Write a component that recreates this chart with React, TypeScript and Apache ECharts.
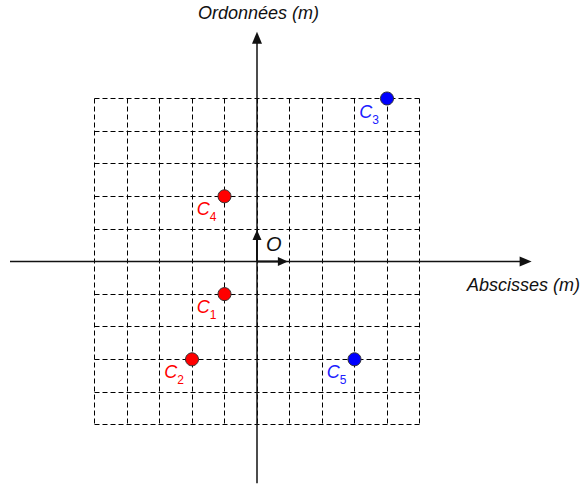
import React, { useEffect, useRef } from "react";
import * as echarts from "echarts";

// Grid range (metres) and step
const gridMin = -5;
const gridMax = 5;
const gridStep = 1;

// Points (x, y) in metres
const redPoints: number[][] = [
  [-1, -1],
  [-2, -3],
  [-1, 2],
];
const redNames = ["1", "2", "4"];
const bluePoints: number[][] = [
  [4, 5],
  [3, -3],
];
const blueNames = ["3", "5"];

// Main axes extents (data units) and unit vectors at the origin
const xAxisLine = [-7.6, 0, 8.45, 0];
const yAxisLine = [0, -6.8, 0, 7.05];
const unitX = [0, 0, 0.95, 0];
const unitY = [0, 0, 0, 0.97];
const arrowSegments = [xAxisLine, yAxisLine, unitX, unitY];

const xAxisName = "Abscisses (m)";
const yAxisName = "Ordonnées (m)";
const originName = "O";

const FONT = "'Liberation Sans', Arial, sans-serif";

export default function App() {
  const ref = useRef<HTMLDivElement>(null);
  useEffect(() => {
    if (!ref.current) return;
    const chart = echarts.init(ref.current, undefined, { renderer: "svg" });
    const arrowStyles = [
      { width: 1.5, head: 12, half: 5 },
      { width: 1.5, head: 12, half: 5 },
      { width: 2, head: 10, half: 4.5 },
      { width: 2, head: 10, half: 4.5 },
    ];
    const labelFor = (color: string) => ({
      show: true,
      position: "left",
      distance: 1,
      offset: [0, 13],
      formatter: (p: any) => `{c|C}{s|${p.name}}`,
      rich: {
        c: { fontSize: 18, fontStyle: "italic", fontFamily: FONT, color, lineHeight: 20 },
        s: { fontSize: 12, fontFamily: FONT, color, lineHeight: 12, padding: [16, 0, 0, 0] },
      },
    });
    const splitLine = {
      show: true,
      lineStyle: { type: [5, 3], color: "#000", width: 1 },
    };
    chart.setOption({
      animation: false,
      grid: { left: 94.5, top: 98.5, width: 325, height: 326, containLabel: false },
      xAxis: {
        type: "value",
        min: gridMin,
        max: gridMax,
        interval: gridStep,
        axisLine: { show: false },
        axisTick: { show: false },
        axisLabel: { show: false },
        splitLine,
      },
      yAxis: {
        type: "value",
        min: gridMin,
        max: gridMax,
        interval: gridStep,
        axisLine: { show: false },
        axisTick: { show: false },
        axisLabel: { show: false },
        splitLine,
      },
      graphic: [
        {
          type: "text",
          left: 198,
          top: 4,
          style: { text: yAxisName, font: `italic 18px ${FONT}`, fill: "#111" },
        },
        {
          type: "text",
          left: 467,
          top: 276,
          style: { text: xAxisName, font: `italic 18px ${FONT}`, fill: "#111" },
        },
        {
          type: "text",
          left: 266,
          top: 234,
          style: { text: originName, font: `italic 20px ${FONT}`, fill: "#111" },
        },
      ],
      series: [
        {
          type: "custom",
          clip: false,
          silent: true,
          z: 3,
          data: arrowSegments,
          renderItem: (params: any, api: any) => {
            const p1 = api.coord([api.value(0), api.value(1)]);
            const p2 = api.coord([api.value(2), api.value(3)]);
            const st = arrowStyles[params.dataIndex];
            const dx = p2[0] - p1[0];
            const dy = p2[1] - p1[1];
            const len = Math.hypot(dx, dy) || 1;
            const ux = dx / len;
            const uy = dy / len;
            const bx = p2[0] - ux * st.head;
            const by = p2[1] - uy * st.head;
            const nx = -uy;
            const ny = ux;
            return {
              type: "group",
              children: [
                {
                  type: "line",
                  shape: { x1: p1[0], y1: p1[1], x2: bx + ux, y2: by + uy },
                  style: { stroke: "#111", lineWidth: st.width },
                },
                {
                  type: "polygon",
                  shape: {
                    points: [
                      [p2[0], p2[1]],
                      [bx + nx * st.half, by + ny * st.half],
                      [bx - nx * st.half, by - ny * st.half],
                    ],
                  },
                  style: { fill: "#111" },
                },
              ],
            };
          },
        },
        {
          type: "scatter",
          clip: false,
          z: 5,
          symbolSize: 13,
          itemStyle: { color: "#ff0000", borderColor: "#333", borderWidth: 1, opacity: 1 },
          label: labelFor("#ff0000"),
          data: redPoints.map((p, i) => ({ value: p, name: redNames[i] })),
        },
        {
          type: "scatter",
          clip: false,
          z: 5,
          symbolSize: 13,
          itemStyle: { color: "#0000ff", borderColor: "#333", borderWidth: 1, opacity: 1 },
          label: labelFor("#2020ff"),
          data: bluePoints.map((p, i) => ({ value: p, name: blueNames[i] })),
        },
      ],
    });
    return () => chart.dispose();
  }, []);
  return (
    <div
      ref={ref}
      style={{ position: "fixed", left: 0, top: 0, width: 582, height: 487, background: "#fff" }}
    />
  );
}
